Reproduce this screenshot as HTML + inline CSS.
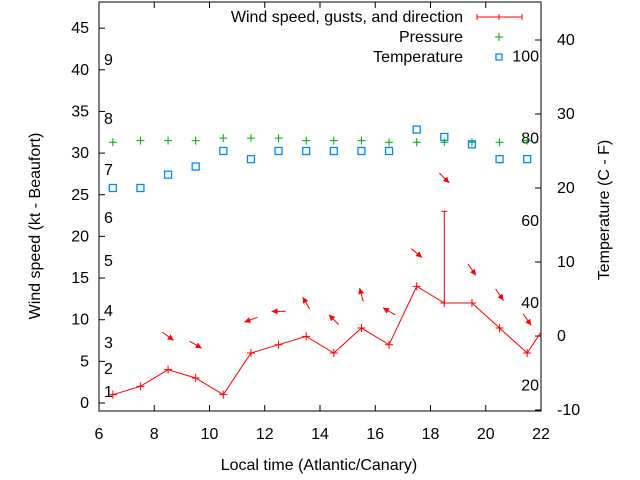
<!DOCTYPE html>
<html><head><meta charset="utf-8"><style>
body{margin:0;background:#fff}
svg{display:block;font-family:"Liberation Sans",sans-serif;font-size:14px}
.big{font-size:16px}
</style></head><body>
<svg id="c" width="640" height="480">
<g id="g"></g>
</svg>
<script>
const hours=[6.5,7.5,8.5,9.5,10.5,11.5,12.5,13.5,14.5,15.5,16.5,17.5,18.5,19.5,20.5,21.5,22.5];
const wind=[1,2,4,3,1,6,7,8,6,9,7,14,12,12,9,6,11];
const gusts=[null,null,null,null,null,null,null,null,null,null,null,null,23,null,null,null,null];
const pressure=[31.3,31.5,31.5,31.5,31.8,31.8,31.8,31.5,31.5,31.5,31.3,31.3,31.3,31.3,31.3,31.5];
const temperature=[20,20,21.8,22.9,25,23.9,25,25,25,25,25,27.9,26.9,25.9,23.9,23.9];
const dirHours=[8.5,9.5,11.5,12.5,13.5,14.5,15.5,16.5,17.5,18.5,19.5,20.5,21.5];
const dirAngle=[35,30,160,180,240,225,255,210,40,45,55,55,55];
const xTicks=[6,8,10,12,14,16,18,20,22];
const yTicks=[0,5,10,15,20,25,30,35,40,45];
const tTicks=[-10,0,10,20,30,40];
const beaufort=[[1,392],[2,369],[3,343],[4,311],[5,261],[6,218],[7,170],[8,119],[9,60]];
const fahr=[20,40,60,80,100];

const L=99,R=541,T=2,B=411;
const X=v=>L+(v-6)*(R-L)/16;
const Y=v=>403-v*8.33;
const TY=c=>336-c*7.4;
const g=document.getElementById('g');
const NS='http://www.w3.org/2000/svg';
function el(tag,attrs,name,txt){const e=document.createElementNS(NS,tag);for(const k in attrs)e.setAttribute(k,attrs[k]);


if(txt!==undefined)e.textContent=txt;g.appendChild(e);return e;}

el('rect',{x:L,y:T,width:R-L,height:B-T,fill:'none',stroke:'#000'},'plot-frame');
xTicks.forEach(v=>{el('line',{x1:X(v),x2:X(v),y1:B,y2:B-6,stroke:'#000'},'x-tick');
el('line',{x1:X(v),x2:X(v),y1:T,y2:T+6,stroke:'#000'},'x-tick-top');
el('text',{x:X(v),y:B+28,'text-anchor':'middle',class:'big'},'x-tick-label',v);});
yTicks.forEach(v=>{el('line',{x1:L,x2:L+6,y1:Y(v),y2:Y(v),stroke:'#000'},'y-tick');
el('text',{x:L-10,y:Y(v)+5,'text-anchor':'end',class:'big'},'y-tick-label',v);});
tTicks.forEach(v=>{el('line',{x1:R,x2:R-6,y1:TY(v),y2:TY(v),stroke:'#000'},'temp-tick');
el('text',{x:R+16,y:TY(v)+5,'text-anchor':'start',class:'big'},'temp-tick-label',v);});
beaufort.forEach(b=>el('text',{x:104,y:b[1]+5,class:'big'},'beaufort-label',b[0]));
fahr.forEach(f=>el('text',{x:539,y:TY((f-32)/1.8)+5,'text-anchor':'end',class:'big'},'fahrenheit-label',f));

el('text',{x:319,y:470,'text-anchor':'middle',class:'big'},'x-axis-title','Local time (Atlantic/Canary)');
el('text',{x:40,y:226,'text-anchor':'middle',class:'big',transform:'rotate(-90 40 226)'},'y-axis-title','Wind speed (kt - Beaufort)');
el('text',{x:609,y:210,'text-anchor':'middle',class:'big',transform:'rotate(-90 609 210)'},'y2-axis-title','Temperature (C - F)');

const cp=document.createElementNS(NS,'clipPath');cp.setAttribute('id','cl');
const cr=document.createElementNS(NS,'rect');cr.setAttribute('x',L);cr.setAttribute('y',T);cr.setAttribute('width',R-L);cr.setAttribute('height',B-T);cp.appendChild(cr);g.appendChild(cp);

el('polyline',{points:hours.map((h,i)=>X(h)+','+Y(wind[i])).join(' '),fill:'none',stroke:'#f00','clip-path':'url(#cl)'},'wind-line');
hours.forEach((h,i)=>{if(h>22)return;const x=X(h),y=Y(wind[i]);
el('path',{d:`M${x-4},${y}h8M${x},${y-4}v8`,stroke:'#f00'},'wind-point');
if(gusts[i]!=null){const gy=Y(gusts[i]);el('path',{d:`M${x},${y}V${gy}M${x-3},${gy}h6`,stroke:'#f00'},'gust-bar');}});
pressure.forEach((p,i)=>{const x=X(hours[i]),y=Y(p);el('path',{d:`M${x-4},${y}h8M${x},${y-4}v8`,stroke:'#0a0'},'pressure-point');});
temperature.forEach((t,i)=>{const x=X(hours[i]),y=TY(t);el('rect',{x:x-3.5,y:y-3.5,width:7,height:7,fill:'none',stroke:'#08f','stroke-width':1.3},'temperature-point');});
dirHours.forEach((h,i)=>{const idx=hours.indexOf(h);const base=gusts[idx]!=null?gusts[idx]:wind[idx];
const cx=X(h),cy=Y(base+4);const a=dirAngle[i]*Math.PI/180,dx=Math.cos(a),dy=Math.sin(a);
const x1=cx-dx*7,y1=cy-dy*7,x2=cx+dx*7,y2=cy+dy*7;
const px=-dy,py=dx;
el('line',{x1,y1,x2,y2,stroke:'#f00'},'direction-arrow');
el('polygon',{points:`${x2},${y2} ${x2-dx*6+px*3},${y2-dy*6+py*3} ${x2-dx*6-px*3},${y2-dy*6-py*3}`,fill:'#f00'},'direction-arrowhead');});

el('text',{x:463,y:22,'text-anchor':'end',class:'big'},'legend-wind-label','Wind speed, gusts, and direction');
el('path',{d:'M477,17h45M477,14v6M499,14v6M522,14v6',stroke:'#f00'},'legend-wind-symbol');
el('text',{x:463,y:42,'text-anchor':'end',class:'big'},'legend-pressure-label','Pressure');
el('path',{d:'M495,37h8M499,33v8',stroke:'#0a0'},'legend-pressure-symbol');
el('text',{x:463,y:62,'text-anchor':'end',class:'big'},'legend-temperature-label','Temperature');
el('rect',{x:496,y:54,width:6,height:6,fill:'none',stroke:'#08f','stroke-width':1.3},'legend-temperature-symbol');
</script>
</body></html>
